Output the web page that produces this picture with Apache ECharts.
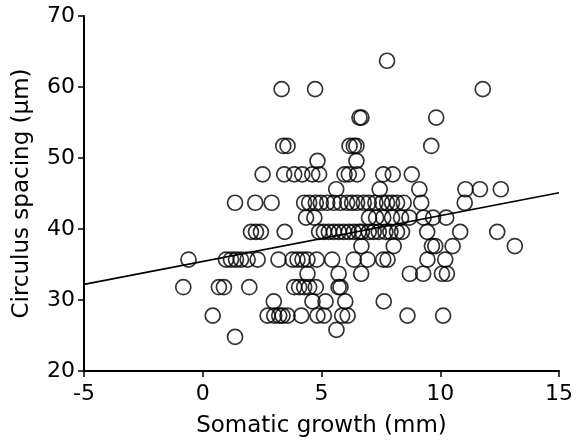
<!DOCTYPE html>
<html>
<head>
<meta charset="utf-8">
<script src="https://cdn.jsdelivr.net/npm/echarts@6/dist/echarts.min.js"></script>
<style>html,body{margin:0;padding:0;background:#fff;}#c{width:576px;height:443px;}</style>
</head>
<body>
<div id="c"></div>
<script>
// Circulus spacing levels (µm) and somatic growth (mm) of the circles at each level
const spacingLevels = [63.7, 59.7, 55.7, 51.7, 49.6, 47.7, 45.6, 43.7, 41.6, 39.6, 37.6, 35.7, 33.7, 31.8, 29.8, 27.8, 25.8, 24.8, 19.8];
const growth63 = [7.76];
const growth60 = [3.32, 4.73, 11.79];
const growth56 = [6.6, 6.68, 9.83];
const growth52 = [3.39, 3.57, 6.18, 6.36, 6.47, 9.62];
const growth50 = [4.83, 6.47];
const growth48 = [2.52, 3.43, 3.85, 4.19, 4.61, 4.9, 5.97, 6.15, 6.5, 7.6, 8.0, 8.8];
const growth46 = [5.62, 7.45, 9.12, 11.06, 11.67, 12.55];
const growth44 = [1.36, 2.21, 2.9, 4.27, 4.48, 4.76, 4.97, 5.24, 5.52, 5.8, 6.08, 6.29, 6.5, 6.78, 6.99, 7.27, 7.55, 7.76, 7.97, 8.18, 8.46, 9.2, 11.03];
const growth42 = [4.35, 4.7, 7.0, 7.3, 7.6, 7.97, 8.35, 8.7, 9.3, 9.7, 10.25];
const growth40 = [2.03, 2.24, 2.45, 3.45, 4.9, 5.1, 5.31, 5.52, 5.73, 5.94, 6.15, 6.36, 6.57, 6.7, 6.99, 7.2, 7.41, 7.69, 7.9, 8.18, 8.39, 9.45, 10.84, 12.4];
const growth38 = [6.68, 8.04, 9.65, 9.79, 10.52, 13.14];
const growth36 = [-0.6, 0.98, 1.19, 1.4, 1.61, 1.89, 2.31, 3.19, 3.78, 3.99, 4.2, 4.41, 4.8, 5.45, 6.36, 6.94, 7.6, 7.78, 9.46, 10.21];
const growth34 = [4.41, 5.72, 6.67, 8.72, 9.28, 10.07, 10.28];
const growth32 = [-0.82, 0.68, 0.89, 1.96, 3.85, 4.06, 4.27, 4.48, 4.76, 5.72, 5.8];
const growth30 = [2.99, 4.62, 5.17, 6.0, 7.62];
const growth28 = [0.42, 2.73, 3.01, 3.22, 3.36, 3.57, 4.15, 4.83, 5.1, 5.87, 6.1, 8.62, 10.12];
const growth26 = [5.63];
const growth25 = [1.36];
const growth20 = [6.39];
const growthRows = [growth63, growth60, growth56, growth52, growth50, growth48, growth46, growth44, growth42, growth40, growth38, growth36, growth34, growth32, growth30, growth28, growth26, growth25, growth20];

// Regression line end points
const fitX = [-5, 15];
const fitY = [32.2, 45.1];

const xTicks = [-5, 0, 5, 10, 15];
const yTicks = [20, 30, 40, 50, 60, 70];

const points = [];
growthRows.forEach((row, i) => row.forEach(x => points.push([x, spacingLevels[i]])));
const fitLine = fitX.map((x, i) => [x, fitY[i]]);

const FONT = 'DejaVu Sans';
const chart = echarts.init(document.getElementById('c'), null, {renderer: 'canvas'});
const axisCommon = {
  type: 'value',
  splitLine: {show: false},
  axisLine: {show: true, onZero: false, lineStyle: {color: '#000', width: 2}},
  axisTick: {show: true, inside: false, length: 6, lineStyle: {color: '#000', width: 1.5}},
  nameLocation: 'middle',
  nameTextStyle: {fontFamily: FONT, fontSize: 23, color: '#000'}
};
chart.setOption({
  animation: false,
  backgroundColor: '#fff',
  grid: {left: 84, right: 15, top: 16, bottom: 72, containLabel: false},
  xAxis: Object.assign({}, axisCommon, {
    min: xTicks[0], max: xTicks[xTicks.length - 1], interval: 5,
    name: 'Somatic growth (mm)', nameGap: 44,
    axisLabel: {fontFamily: FONT, fontSize: 22, color: '#000', margin: 12}
  }),
  yAxis: Object.assign({}, axisCommon, {
    min: yTicks[0], max: yTicks[yTicks.length - 1], interval: 10,
    name: 'Circulus spacing (µm)', nameGap: 50,
    axisLabel: {fontFamily: FONT, fontSize: 22, color: '#000', margin: 9}
  }),
  series: [
    {
      type: 'line', data: fitLine, showSymbol: false, silent: true,
      lineStyle: {color: '#000', width: 1.7}, z: 1
    },
    {
      type: 'scatter', data: points, symbol: 'circle', symbolSize: 15, silent: true,
      itemStyle: {color: 'rgba(255,255,255,0)', borderColor: '#000', borderWidth: 1.7}, z: 2
    }
  ]
});
</script>
</body>
</html>
